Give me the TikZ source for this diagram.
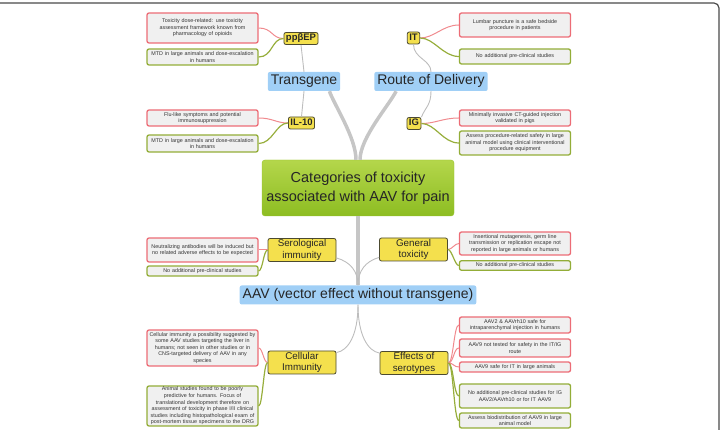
\documentclass[tikz,border=0pt]{standalone}
\usepackage{fontspec}
\setmainfont{Liberation Sans}
\usetikzlibrary{positioning}

\definecolor{textgray}{HTML}{333333}
\definecolor{coretop}{HTML}{B4D64B}
\definecolor{corebot}{HTML}{8DBD22}
\definecolor{coreline}{HTML}{98C22E}
\definecolor{branchblue}{HTML}{A0CFF6}
\definecolor{catyellow}{HTML}{F4E04D}
\definecolor{catline}{HTML}{4C4A30}
\definecolor{notegray}{HTML}{F0F0F0}
\definecolor{riskred}{HTML}{EC6C76}
\definecolor{plangreen}{HTML}{93AD38}
\definecolor{linkred}{HTML}{F08A8E}
\definecolor{linkgreen}{HTML}{97AE3C}
\definecolor{trunkgray}{HTML}{C6C6C6}
\definecolor{twiggray}{HTML}{BDBDBD}
\definecolor{framegray}{HTML}{4A4A4A}

\begin{document}
\begin{tikzpicture}[
    x=1pt, y=-1pt,
    every node/.style={text=textgray},
    core/.style={shade, top color=coretop, bottom color=corebot, draw=coreline,
        rounded corners=3pt, minimum width=192pt, minimum height=56pt,
        align=center, text=black!85, font=\fontsize{14.5}{19}\selectfont},
    branch/.style={fill=branchblue, rounded corners=2pt, inner xsep=3pt,
        inner ysep=3pt, text height=10pt, text depth=3pt, text=black!85,
        font=\fontsize{14}{16}\selectfont},
    topic/.style={fill=catyellow, draw=catline, line width=0.8pt,
        rounded corners=2pt, inner xsep=2pt, inner ysep=1.5pt,
        text height=7pt, text depth=2pt, text=black!85,
        font=\fontsize{9.5}{11}\selectfont\bfseries},
    bigtopic/.style={fill=catyellow, draw=catline, line width=0.8pt,
        rounded corners=2pt, minimum width=68pt, minimum height=23pt,
        inner sep=1pt, align=center, text=black!85,
        font=\fontsize{9.8}{11.5}\selectfont},
    note/.style={fill=notegray, line width=1.3pt, rounded corners=2pt,
        text width=106pt, inner xsep=2.5pt, inner ysep=0.5pt, align=center,
        font=\fontsize{5.4}{6.6}\selectfont},
    risk/.style={note, draw=riskred},
    plan/.style={note, draw=plangreen},
    trunk/.style={draw=trunkgray, line width=3.5pt},
    twig/.style={draw=twiggray, line width=0.9pt},
    risklink/.style={draw=linkred, line width=1pt},
    planlink/.style={draw=linkgreen, line width=1.2pt}
]

\useasboundingbox (0,0) rectangle (721,430);
\draw[line width=1.2pt, framegray, rounded corners=5pt] (0,3) -- (719,3) -- (719,430);

% centre and main branches
\node[core] (core) at (358,188) {Categories of toxicity\\associated with AAV for pain};
\node[branch] (tg) at (304,81.5) {Transgene};
\node[branch] (rd) at (431,81.5) {Route of Delivery};
\node[branch] (aav) at (358,295) {AAV (vector effect without transgene)};

% topics
\node[topic] (pp) at (301,38.5) {ppβEP};
\node[topic] (it) at (413.5,38) {IT};
\node[topic] (il) at (301.5,123) {IL-10};
\node[topic] (ig) at (414,123.5) {IG};
\node[bigtopic] (sero) at (302,250) {Serological\\immunity};
\node[bigtopic] (gen) at (413.5,249.5) {General\\toxicity};
\node[bigtopic] (cell) at (302,362.5) {Cellular\\Immunity};
\node[bigtopic] (eff) at (414,363) {Effects of\\serotypes};

% notes, left side
\node[risk, minimum height=30pt] (ppa) at (202.5,28) {Toxicity dose-related: use toxicity\\assessment framework known from\\pharmacology of opioids};
\node[plan, minimum height=16pt] (ppb) at (202.5,57) {MTD in large animals and dose-escalation\\in humans};
\node[risk, minimum height=16pt] (ila) at (202.5,118) {Flu-like symptoms and potential\\immunosuppression};
\node[plan, minimum height=17pt] (ilb) at (202.5,143.5) {MTD in large animals and dose-escalation\\in humans};
\node[risk, minimum height=24pt] (seroa) at (202.5,250) {Neutralizing antibodies will be induced but\\no related adverse effects to be expected};
\node[plan, minimum height=10pt] (serob) at (202.5,271) {No additional pre-clinical studies};
\node[risk, minimum height=36pt] (cella) at (202.5,348) {Cellular immunity a possibility suggested by\\some AAV studies targeting the liver in\\humans; not seen in other studies or in\\CNS-targeted delivery of AAV in any\\species};
\node[plan, minimum height=40pt] (cellb) at (202.5,406) {Animal studies found to be poorly\\predictive for humans. Focus of\\translational development therefore on\\assessment of toxicity in phase I/II clinical\\studies including histopathological exam of\\post-mortem tissue specimens to the DRG};

% notes, right side
\node[risk, minimum height=24pt] (ita) at (515,25) {Lumbar puncture is a safe bedside\\procedure in patients};
\node[plan, minimum height=15pt] (itb) at (515,56.5) {No additional pre-clinical studies};
\node[risk, minimum height=16pt] (iga) at (515,118) {Minimally invasive CT-guided injection\\validated in pigs};
\node[plan, minimum height=24pt] (igb) at (515,143) {Assess procedure-related safety in large\\animal model using clinical interventional\\procedure equipment};
\node[risk, minimum height=23pt] (gena) at (515,243.5) {Insertional mutagenesis, germ line\\transmission or replication escape not\\reported in large animals or humans};
\node[plan, minimum height=9.5pt] (genb) at (515,265.5) {No additional pre-clinical studies};
\node[risk, minimum height=16pt] (effa) at (515,325) {AAV2 \& AAVrh10 safe for\\intraparenchymal injection in humans};
\node[risk, minimum height=18pt] (effb) at (515,348) {AAV9 not tested for safety in the IT/IG\\route};
\node[risk, minimum height=10pt] (effc) at (515,367) {AAV9 safe for IT in large animals};
\node[plan, minimum height=24pt] (effd) at (515,396) {No additional pre-clinical studies for IG\\AAV2/AAVrh10 or for IT AAV9};
\node[plan, minimum height=15pt] (effe) at (515,420.5) {Assess biodistribution of AAV9 in large\\animal model};

% trunk
\draw[trunk] ([xshift=-2pt]core.north) .. controls +(0,-22) and +(5,14) .. ([xshift=-11pt]tg.south east);
\draw[trunk] ([xshift=2pt]core.north) .. controls +(0,-22) and +(-7,14) .. ([xshift=22pt]rd.south west);
\draw[trunk] (core.south) -- (core.south |- aav.north);

% twigs
\draw[twig] (tg.north) -- (pp.south);
\draw[twig] (tg.south) -- (il.north);
\draw[twig] (it.south) .. controls +(0,14) and +(0,-12) .. (rd.north);
\draw[twig] (rd.south) .. controls +(0,14) and +(4,-10) .. (ig.north east);
\draw[twig] ([yshift=4pt]sero.south east) .. controls +(14,4) and +(0,-14) .. (aav.north);
\draw[twig] ([yshift=4pt]gen.south west) .. controls +(-14,4) and +(0,-14) .. (aav.north);
\draw[twig] (aav.south) .. controls +(0,30) and +(12,-2) .. ([yshift=-2pt]cell.north east);
\draw[twig] (aav.south) .. controls +(0,30) and +(-12,-2) .. ([yshift=-2pt]eff.north west);

% links to notes
\draw[risklink] (pp.west) .. controls +(-12,0) and +(14,0) .. (ppa.east);
\draw[planlink] (pp.west) .. controls +(-12,0) and +(14,0) .. (ppb.east);
\draw[risklink] (il.west) .. controls +(-12,0) and +(14,0) .. (ila.east);
\draw[planlink] (il.west) .. controls +(-12,0) and +(14,0) .. (ilb.east);
\draw[risklink] (sero.west) .. controls +(-4,0) and +(4,0) .. (seroa.east);
\draw[planlink] (sero.west) .. controls +(-4,0) and +(4,0) .. (serob.east);
\draw[risklink] (cell.west) .. controls +(-4,0) and +(4,0) .. (cella.east);
\draw[planlink] (cell.west) .. controls +(-4,0) and +(4,0) .. (cellb.east);

\draw[risklink] (it.east) .. controls +(14,0) and +(-16,0) .. (ita.west);
\draw[planlink] (it.east) .. controls +(14,0) and +(-16,0) .. (itb.west);
\draw[risklink] (ig.east) .. controls +(14,0) and +(-16,0) .. (iga.west);
\draw[planlink] (ig.east) .. controls +(14,0) and +(-16,0) .. (igb.west);
\draw[risklink] (gen.east) .. controls +(4,0) and +(-4,0) .. (gena.west);
\draw[planlink] (gen.east) .. controls +(4,0) and +(-4,0) .. (genb.west);
\draw[risklink] (eff.east) .. controls +(5,0) and +(-5,0) .. (effa.west);
\draw[risklink] (eff.east) .. controls +(5,0) and +(-5,0) .. (effb.west);
\draw[risklink] (eff.east) .. controls +(5,0) and +(-5,0) .. (effc.west);
\draw[planlink] (eff.east) .. controls +(5,0) and +(-5,0) .. (effd.west);
\draw[planlink] (eff.east) .. controls +(5,0) and +(-5,0) .. (effe.west);

\end{tikzpicture}
\end{document}
